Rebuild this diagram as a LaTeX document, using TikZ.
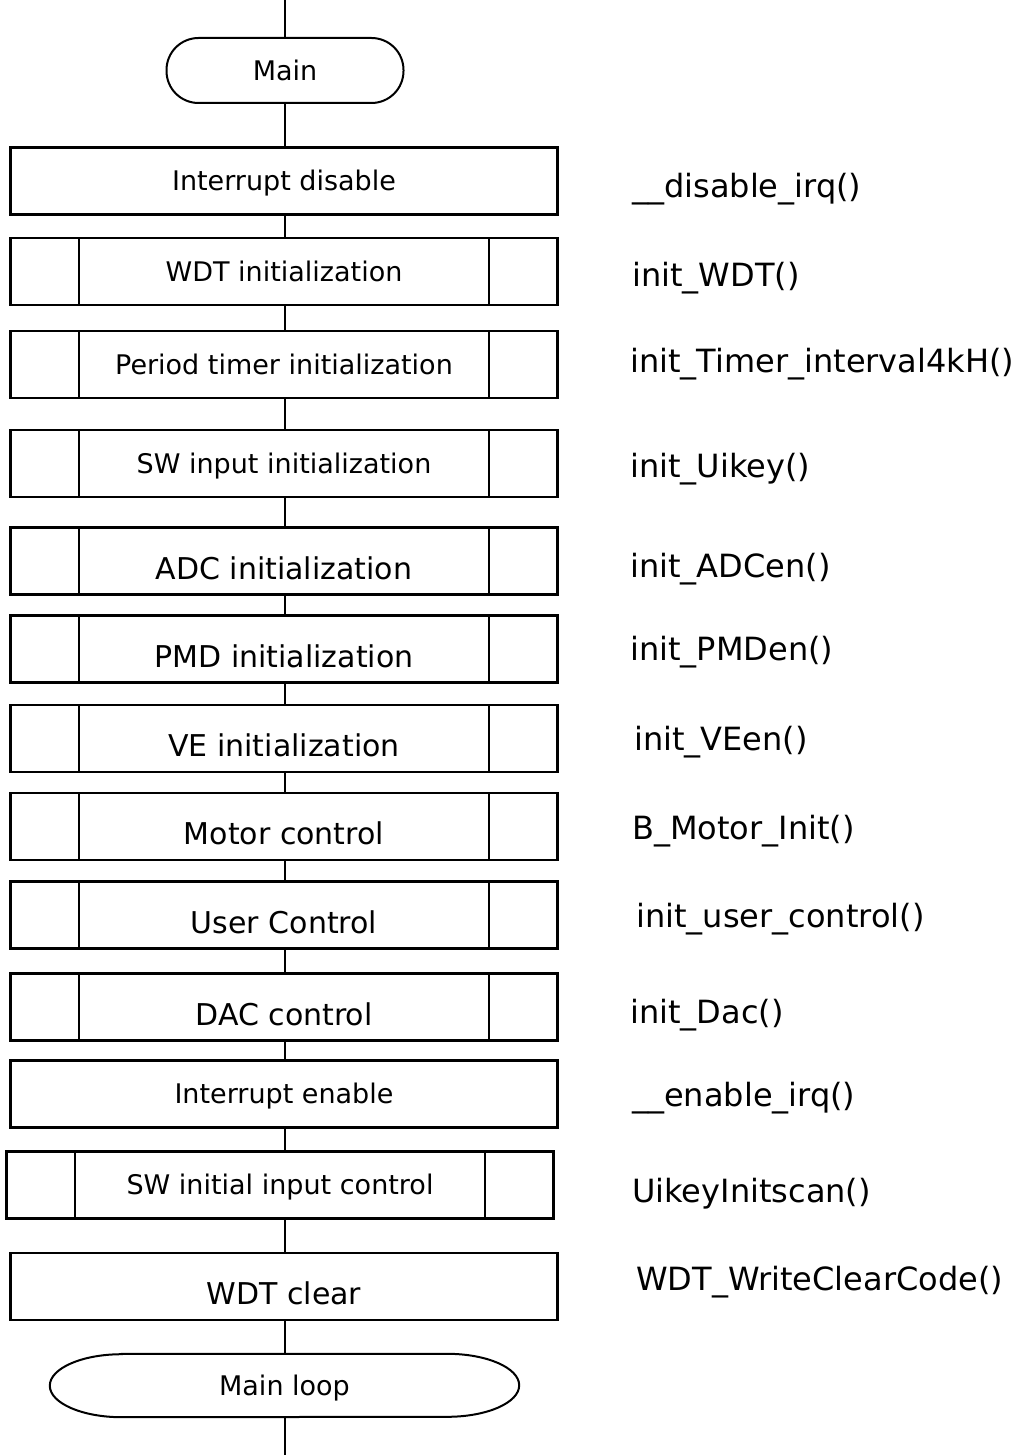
\documentclass[tikz,border=0pt]{standalone}
\usepackage{fontspec}
\setmainfont{DejaVu Sans}
\begin{document}
\begin{tikzpicture}[x=1pt,y=-1pt,
  proc/.style={draw, line width=2.6pt, inner sep=0pt, minimum width=547pt, minimum height=67pt,
    font=\fontsize{27}{32}\selectfont, text height=19.7pt, text depth=0pt},
  big/.style={font=\fontsize{30}{36}\selectfont, text height=36pt, text depth=0pt},
  sub/.style={proc, path picture={
    \draw[line width=2pt] ([xshift=68pt]path picture bounding box.north west) -- ([xshift=68pt]path picture bounding box.south west);
    \draw[line width=2pt] ([xshift=-69pt]path picture bounding box.north east) -- ([xshift=-69pt]path picture bounding box.south east);}},
  term/.style={inner sep=0pt, font=\fontsize{27}{32}\selectfont, text height=19.7pt, text depth=0pt},
  code/.style={anchor=base west, inner sep=0pt, font=\fontsize{32}{38}\selectfont},
  conn/.style={line width=1.5pt}
]
\useasboundingbox (0,0) rectangle (1017,1455);

\coordinate (top) at (285,0);
\node[term, draw, line width=2pt, rounded corners=32pt, minimum width=237pt, minimum height=65pt] (main) at (285,70.5) {Main};

\node[proc] (dis) at (284,181) {Interrupt disable};
\node[sub] (wdt) at (284,271.5) {WDT initialization};
\node[sub] (tim) at (284,364.5) {Period timer initialization};
\node[sub] (swin) at (284,463.5) {SW input initialization};
\node[sub,big] (adc) at (284,561) {ADC initialization};
\node[sub,big] (pmd) at (284,649) {PMD initialization};
\node[sub,big] (ve) at (284,738.5) {VE initialization};
\node[sub,big] (mot) at (284,826.5) {Motor control};
\node[sub,big] (usr) at (284,915) {User Control};
\node[sub,big] (dac) at (284,1007) {DAC control};
\node[proc] (en) at (284,1094) {Interrupt enable};
\node[sub] (swi) at (280,1185) {SW initial input control};
\node[proc,big] (wclr) at (284,1286.5) {WDT clear};
\node[term, minimum width=469pt, minimum height=63pt] (loop) at (284.5,1385.5) {Main loop};
\draw[line width=2pt] ([xshift=72pt]loop.north west) -- ([xshift=-72pt]loop.north east)
  arc[start angle=-90, end angle=90, x radius=72, y radius=31.5]
  -- ([xshift=72pt]loop.south west)
  arc[start angle=90, end angle=270, x radius=72, y radius=31.5] -- cycle;
\coordinate (bot) at (285,1455);

\draw[conn] (top) -- (main.north);
\draw[conn] (main.south) -- (main.south |- dis.north);
\foreach \a/\b in {dis/wdt, wdt/tim, tim/swin, swin/adc, adc/pmd, pmd/ve, ve/mot, mot/usr, usr/dac, dac/en, en/swi, swi/wclr, wclr/loop}
  \draw[conn] (top |- \a.south) -- (top |- \b.north);
\draw[conn] (top |- loop.south) -- (bot);

\node[code] (c1) at (632,198) {\_\_disable\_irq()};
\node[code] (c2) at (632,286) {init\_WDT()};
\node[code] (c3) at (630,372) {init\_Timer\_interval4kH()};
\node[code] (c4) at (630,477) {init\_Uikey()};
\node[code] (c5) at (630,577) {init\_ADCen()};
\node[code] (c6) at (630,660) {init\_PMDen()};
\node[code] (c7) at (634,750) {init\_VEen()};
\node[code] (c8) at (632,839) {B\_Motor\_Init()};
\node[code] (c9) at (636,927) {init\_user\_control()};
\node[code] (c10) at (630,1023) {init\_Dac()};
\node[code] (c11) at (632,1106) {\_\_enable\_irq()};
\node[code] (c12) at (632,1202) {UikeyInitscan()};
\node[code] (c13) at (636,1290) {WDT\_WriteClearCode()};
\end{tikzpicture}
\end{document}
